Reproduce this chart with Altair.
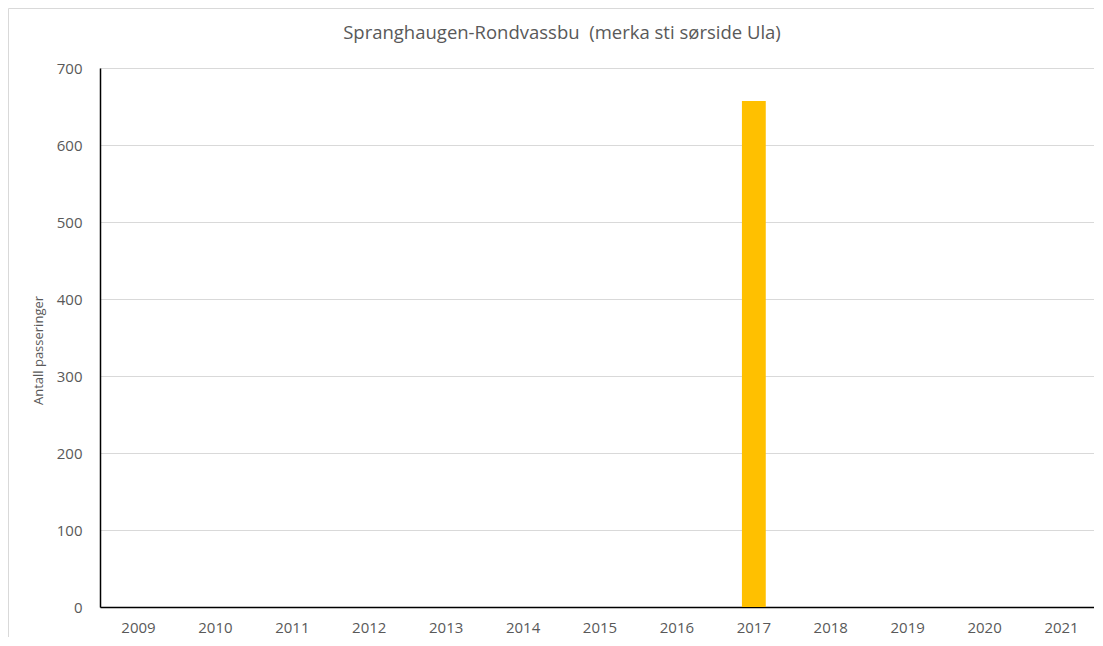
import altair as alt
import pandas as pd

years = ["2009", "2010", "2011", "2012", "2013", "2014", "2015", "2016", "2017", "2018", "2019", "2020", "2021"]
counts = [0, 0, 0, 0, 0, 0, 0, 0, 657, 0, 0, 0, 0]
y_ticks = [0, 100, 200, 300, 400, 500, 600, 700]
title_text = "Spranghaugen-Rondvassbu\u00a0 (merka sti sørside Ula)"
y_title = "Antall passeringer"

df = pd.DataFrame({"year": years, "count": counts})

FONT = "Open Sans"
GRAY = "#595959"

W, H = 1000, 539

border = alt.Chart(pd.DataFrame({"a": [0]})).mark_rect(
    fill=None, stroke="#d9d9d9", strokeWidth=1
).encode(
    x=alt.value(-91.5), x2=alt.value(1020), y=alt.value(-59.5), y2=alt.value(700)
)

bars = alt.Chart(df).mark_bar(color="#FFC000").encode(
    x=alt.X("year:N", sort=years,
            scale=alt.Scale(paddingInner=0.69, paddingOuter=0.345),
            axis=alt.Axis(title=None, labelAngle=0, ticks=False, domainColor="#000000",
                          domainWidth=1.5, labelPadding=13, labelFontSize=15,
                          labelFont=FONT, labelColor=GRAY, grid=False)),
    y=alt.Y("count:Q", scale=alt.Scale(domain=[0, 700], nice=False),
            axis=alt.Axis(values=y_ticks, title=y_title, ticks=False, domainColor="#000000",
                          domainWidth=1.5, labelPadding=18, labelFontSize=15,
                          labelFont=FONT, labelColor=GRAY, gridColor="#d9d9d9",
                          titleFont=FONT, titleFontSize=13, titleColor=GRAY,
                          titleFontWeight="normal", titleX=-55, titleY=282)),
)

title = alt.Chart(pd.DataFrame({"t": [title_text]})).mark_text(
    font=FONT, fontSize=18.5, color=GRAY, align="center", baseline="middle"
).encode(x=alt.value(462), y=alt.value(-35), text="t:N")

chart = alt.layer(border, bars, title).properties(
    width=W, height=H,
    padding={"left": 92, "top": 60, "right": -6, "bottom": 30},
    autosize=alt.AutoSizeParams(type="none"),
).configure_view(stroke=None).configure(background="white")

chart.save("out.html", embed_options={"renderer": "svg", "actions": False})
